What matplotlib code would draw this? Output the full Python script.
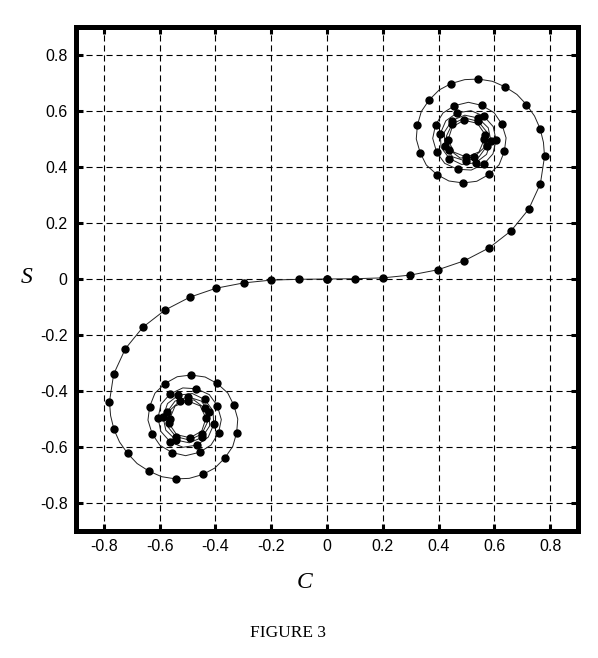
import matplotlib
matplotlib.use("Agg")
import matplotlib.pyplot as plt

# dots on the upper arm (t = 0 .. 5 in steps of 0.1)
up_c = [0.000, 0.100, 0.200, 0.299, 0.398, 0.492, 0.581, 0.660, 0.723, 0.765, 0.780,
        0.764, 0.715, 0.639, 0.543, 0.445, 0.366, 0.324, 0.334, 0.394, 0.488,
        0.582, 0.636, 0.627, 0.555, 0.457, 0.389, 0.393, 0.468, 0.562, 0.606,
        0.562, 0.466, 0.406, 0.439, 0.533, 0.588, 0.542, 0.448, 0.422, 0.498,
        0.574, 0.542, 0.449, 0.438, 0.526, 0.567, 0.491, 0.434, 0.500, 0.564]
up_s = [0.000, 0.001, 0.004, 0.014, 0.033, 0.065, 0.111, 0.172, 0.249, 0.340, 0.438,
        0.537, 0.623, 0.686, 0.714, 0.698, 0.639, 0.549, 0.451, 0.373, 0.343,
        0.374, 0.456, 0.553, 0.620, 0.619, 0.550, 0.453, 0.392, 0.410, 0.496,
        0.582, 0.593, 0.519, 0.430, 0.415, 0.492, 0.575, 0.566, 0.475, 0.421,
        0.476, 0.563, 0.554, 0.462, 0.434, 0.516, 0.567, 0.497, 0.435, 0.499]

# extra curve points between the dots (upper arm, from t = 1.05)
up_mid_c = [0.776, 0.744, 0.681, 0.593, 0.494, 0.402, 0.338, 0.320, 0.356, 0.437,
            0.537, 0.617, 0.642, 0.599, 0.507, 0.416, 0.379, 0.422, 0.517, 0.595,
            0.596, 0.516, 0.426, 0.409, 0.483, 0.572, 0.578, 0.494, 0.421, 0.451,
            0.545, 0.573, 0.494, 0.428, 0.477, 0.562, 0.539, 0.449, 0.455, 0.545]
up_mid_s = [0.488, 0.582, 0.659, 0.706, 0.712, 0.675, 0.598, 0.500, 0.407, 0.350,
            0.349, 0.408, 0.504, 0.594, 0.631, 0.593, 0.502, 0.413, 0.389, 0.447,
            0.544, 0.601, 0.565, 0.470, 0.409, 0.445, 0.540, 0.585, 0.525, 0.436,
            0.436, 0.525, 0.575, 0.510, 0.432, 0.468, 0.556, 0.543, 0.453, 0.454]

# lower arm
lo_c = [0.000, -0.100, -0.200, -0.299, -0.398, -0.492, -0.581, -0.660, -0.723, -0.765, -0.780,
        -0.764, -0.715, -0.639, -0.543, -0.445, -0.366, -0.324, -0.334, -0.394, -0.488,
        -0.582, -0.636, -0.627, -0.555, -0.457, -0.389, -0.393, -0.468, -0.562, -0.606,
        -0.562, -0.466, -0.406, -0.439, -0.533, -0.588, -0.542, -0.448, -0.422, -0.498,
        -0.574, -0.542, -0.449, -0.438, -0.526, -0.567, -0.491, -0.434, -0.500, -0.564]
lo_s = [0.000, -0.001, -0.004, -0.014, -0.033, -0.065, -0.111, -0.172, -0.249, -0.340, -0.438,
        -0.537, -0.623, -0.686, -0.714, -0.698, -0.639, -0.549, -0.451, -0.373, -0.343,
        -0.374, -0.456, -0.553, -0.620, -0.619, -0.550, -0.453, -0.392, -0.410, -0.496,
        -0.582, -0.593, -0.519, -0.430, -0.415, -0.492, -0.575, -0.566, -0.475, -0.421,
        -0.476, -0.563, -0.554, -0.462, -0.434, -0.516, -0.567, -0.497, -0.435, -0.499]
lo_mid_c = [-0.776, -0.744, -0.681, -0.593, -0.494, -0.402, -0.338, -0.320, -0.356, -0.437,
            -0.537, -0.617, -0.642, -0.599, -0.507, -0.416, -0.379, -0.422, -0.517, -0.595,
            -0.596, -0.516, -0.426, -0.409, -0.483, -0.572, -0.578, -0.494, -0.421, -0.451,
            -0.545, -0.573, -0.494, -0.428, -0.477, -0.562, -0.539, -0.449, -0.455, -0.545]
lo_mid_s = [-0.488, -0.582, -0.659, -0.706, -0.712, -0.675, -0.598, -0.500, -0.407, -0.350,
            -0.349, -0.408, -0.504, -0.594, -0.631, -0.593, -0.502, -0.413, -0.389, -0.447,
            -0.544, -0.601, -0.565, -0.470, -0.409, -0.445, -0.540, -0.585, -0.525, -0.436,
            -0.436, -0.525, -0.575, -0.510, -0.432, -0.468, -0.556, -0.543, -0.453, -0.454]

ticks = [-0.8, -0.6, -0.4, -0.2, 0, 0.2, 0.4, 0.6, 0.8]
tick_labels = ['-0.8', '-0.6', '-0.4', '-0.2', '0', '0.2', '0.4', '0.6', '0.8']


def arm(dc, ds, mc, ms):
    # dots up to t=1 then between-point / dot alternately
    pc = list(dc[:11])
    ps = list(ds[:11])
    for i in range(len(mc)):
        pc += [mc[i], dc[11 + i]]
        ps += [ms[i], ds[11 + i]]
    return pc, ps


uc, us = arm(up_c, up_s, up_mid_c, up_mid_s)
lc, ls = arm(lo_c, lo_s, lo_mid_c, lo_mid_s)
line_c = lc[::-1] + uc[1:]
line_s = ls[::-1] + us[1:]

plt.rcParams['font.family'] = ['Liberation Sans', 'DejaVu Sans']

fig = plt.figure(figsize=(5.98, 6.58), dpi=100)
ax = fig.add_axes([0.1271, 0.1930, 0.8395, 0.7660])

ax.plot(line_c, line_s, color='#222222', lw=0.7, zorder=3)
ax.plot(up_c, up_s, 'o', color='black', ms=5, zorder=4)
ax.plot(lo_c, lo_s, 'o', color='black', ms=5, zorder=4)

ax.set_xlim(-0.9, 0.9)
ax.set_ylim(-0.9, 0.9)
ax.set_xticks(ticks)
ax.set_xticklabels(tick_labels)
ax.set_yticks(ticks)
ax.set_yticklabels(tick_labels)
ax.grid(True, color='black', lw=0.8, linestyle=(0, (5.5, 3.5)))
ax.set_axisbelow(True)

for sp in ax.spines.values():
    sp.set_linewidth(3.6)
ax.tick_params(direction='in', length=5, width=2.2, labelsize=11.5,
               top=True, right=True, pad=6)

fig.text(0.510, 0.115, 'C', family='Liberation Serif', style='italic',
         fontsize=17, ha='center', va='center')
fig.text(0.045, 0.578, 'S', family='Liberation Serif', style='italic',
         fontsize=17, ha='center', va='center')
fig.text(0.482, 0.038, 'FIGURE 3', family='Liberation Serif',
         fontsize=12.5, ha='center', va='center')

fig.savefig('out.png', dpi=100)
